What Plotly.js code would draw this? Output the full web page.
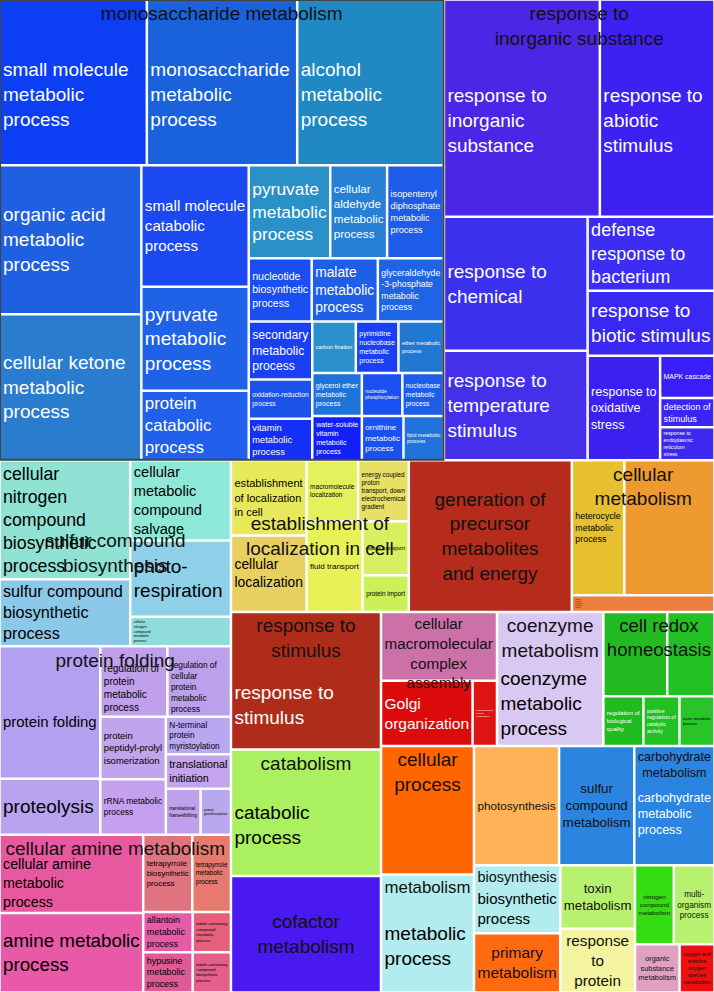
<!DOCTYPE html>
<html>
<head>
<meta charset="utf-8">
<script src="https://cdn.plot.ly/plotly-3.0.1.min.js"></script>
<style>
  html, body { margin: 0; padding: 0; background: #fff; }
  #chart { width: 714px; height: 992px; }
</style>
</head>
<body>
<div id="chart"></div>
<script>
// group (cluster) names, in layout order
var groupNames = [
  'monosaccharide metabolism', 'response to inorganic substance', 'sulfur compound biosynthesis',
  'protein folding', 'cellular amine metabolism', 'establishment of localization in cell',
  'generation of precursor metabolites and energy', 'cellular metabolism', 'response to stimulus',
  'catabolism', 'cofactor metabolism', 'cellular macromolecular complex assembly',
  'coenzyme metabolism', 'cell redox homeostasis', 'cellular process', 'metabolism',
  'photosynthesis', 'sulfur compound metabolism', 'carbohydrate metabolism', 'biosynthesis',
  'primary metabolism', 'toxin metabolism', 'response to protein', 'nitrogen compound metabolism',
  'multi-organism process', 'organic substance metabolism', 'oxygen and reactive oxygen species metabolism'
];
var groupLabels = [
  'monosaccharide metabolism', 'response to<br>inorganic substance', 'sulfur compound<br>biosynthesis',
  'protein folding', 'cellular amine metabolism', 'establishment of<br>localization in cell',
  'generation of<br>precursor<br>metabolites<br>and energy', 'cellular<br>metabolism', 'response to<br>stimulus',
  'catabolism', 'cofactor<br>metabolism', 'cellular<br>macromolecular<br>complex<br>assembly',
  'coenzyme<br>metabolism', 'cell redox<br>homeostasis', 'cellular<br>process', 'metabolism',
  'photosynthesis', 'sulfur<br>compound<br>metabolism', 'carbohydrate<br>metabolism', 'biosynthesis',
  'primary<br>metabolism', 'toxin<br>metabolism', 'response<br>to<br>protein', 'nitrogen<br>compound<br>metabolism',
  'multi-<br>organism<br>process', 'organic<br>substance<br>metabolism', 'oxygen and<br>reactive<br>oxygen<br>species<br>metabolism'
];
var groupLabelPos = [
  'top', 'top', 'mid', 'top', 'top', 'mid', 'mid', 'top', 'top', 'top', 'mid', 'top', 'top', 'top',
  'top', 'top', 'mid', 'mid', 'top', 'top', 'mid', 'mid', 'mid', 'mid', 'mid', 'mid', 'mid'
];

// GO terms (leaves)
var leafNames = [
  'small molecule metabolic process', 'monosaccharide metabolic process', 'alcohol metabolic process',
  'organic acid metabolic process', 'cellular ketone metabolic process', 'small molecule catabolic process',
  'pyruvate metabolic process', 'protein catabolic process', 'pyruvate metabolic process',
  'cellular aldehyde metabolic process', 'isopentenyl diphosphate metabolic process',
  'nucleotide biosynthetic process', 'malate metabolic process', 'glyceraldehyde -3-phosphate metabolic process',
  'secondary metabolic process', 'oxidation-reduction process', 'vitamin metabolic process',
  'carbon fixation', 'pyrimidine nucleobase metabolic process', 'ether metabolic process',
  'glycerol ether metabolic process', 'water-soluble vitamin metabolic process', 'nucleotide phosphorylation',
  'nucleobase metabolic process', 'ornithine metabolic process', 'lipid metabolic process',

  'response to inorganic substance', 'response to abiotic stimulus', 'response to chemical',
  'response to temperature stimulus', 'defense response to bacterium', 'response to biotic stimulus',
  'response to oxidative stress', 'MAPK cascade', 'detection of stimulus', 'response to endoplasmic reticulum stress',

  'cellular nitrogen compound biosynthetic process', 'sulfur compound biosynthetic process',
  'cellular metabolic compound salvage', 'photo- respiration', 'cellular nitrogen compound metabolic process',

  'protein folding', 'proteolysis', 'regulation of protein metabolic process',
  'regulation of cellular protein metabolic process', 'protein peptidyl-prolyl isomerization',
  'rRNA metabolic process', 'N-terminal protein myristoylation', 'translational initiation',
  'translational frameshifting', 'protein glutathionylation',

  'cellular amine metabolic process', 'amine metabolic process', 'tetrapyrrole biosynthetic process',
  'tetrapyrrole metabolic process', 'allantoin metabolic process', 'hypusine metabolic process',
  'indole-containing compound metabolic process', 'indole-containing compound biosynthetic process',

  'establishment of localization in cell', 'cellular localization', 'macromolecule localization',
  'energy coupled proton transport, down electrochemical gradient', 'fluid transport', 'water transport', 'protein import',

  'generation of precursor metabolites and energy',
  'heterocycle metabolic process', 'cellular metabolic process', 'cellular aromatic compound metabolic process',
  'response to stimulus',
  'catabolic process',
  'cofactor metabolic process',
  'cellular macromolecular complex assembly', 'Golgi organization', 'endomembrane system organization',
  'coenzyme metabolic process',
  'cell redox homeostasis', 'cellular homeostasis', 'regulation of biological quality',
  'positive regulation of catalytic activity', 'auxin metabolic process',
  'cellular process',
  'metabolic process',
  'photosynthesis',
  'sulfur compound metabolic process',
  'carbohydrate metabolic process',
  'biosynthetic process',
  'primary metabolic process',
  'toxin metabolic process',
  'response to protein',
  'nitrogen compound metabolic process',
  'multi-organism process',
  'organic substance metabolic process',
  'oxygen and reactive oxygen species metabolic process'
];
var leafGroup = [
  0,0,0,0,0,0,0,0,0,0,0,0,0,0,0,0,0,0,0,0,0,0,0,0,0,0,
  1,1,1,1,1,1,1,1,1,1,
  2,2,2,2,2,
  3,3,3,3,3,3,3,3,3,3,
  4,4,4,4,4,4,4,4,
  5,5,5,5,5,5,5,
  6,
  7,7,7,
  8,
  9,
  10,
  11,11,11,
  12,
  13,13,13,13,13,
  14, 15, 16, 17, 18, 19, 20, 21, 22, 23, 24, 25, 26
];
var leafValues = [
  24500, 25000, 24400, 21200, 20800, 13100, 11200, 7500, 7600, 5300, 5300,
  4000, 4200, 4200, 3700, 2500, 2650, 2250, 2200, 2350, 2150, 2200, 1750, 1800, 1850, 1800,

  34000, 25000, 19300, 15800, 9400, 8300, 7600, 2300, 1600, 1800,

  15600, 8800, 8100, 7700, 3000,

  13400, 5650, 4750, 4500, 4100, 3650, 2450, 2250, 1600, 1400,

  11300, 11450, 3800, 3000, 2000, 2000, 1550, 1550,

  5700, 5800, 3150, 3100, 5100, 2500, 1700,

  24800,
  7100, 12200, 2400,
  20700,
  19050,
  17550,
  8000, 6000, 1600,
  14300,
  5400, 4000, 2000, 1800, 1750,
  12000, 11000, 10180, 9000, 9600, 5900, 5130, 4770, 4770, 3080, 3230, 2160, 1690
];
var leafColors = [
  '#0c3ef4', '#1a62dc', '#2088c2', '#1f60e0', '#2a7cce', '#1c48f2', '#1f62e8', '#2060ec', '#2a90c8',
  '#2680d4', '#1c5ce8', '#1a4ef0', '#1f5ee6', '#1f64e2', '#1a40f4', '#1a52ea', '#1530f6', '#2a90cc',
  '#1a40f2', '#2078d2', '#1f72d8', '#1020f6', '#1a4ff0', '#1d5ee8', '#1a50f0', '#2072dc',

  '#4a26e6', '#3e20f2', '#3a30ee', '#4430ea', '#3c2cf4', '#3828f2', '#3c20f0', '#3a1ef8', '#3a26f0', '#3c28ee',

  '#8fe2d4', '#8cc8e8', '#8ee8d8', '#8ed0e8', '#90dcdc',

  '#b4a0f0', '#b8a4ee', '#c0a0ea', '#bca0ea', '#c0a4ec', '#c4a0ee', '#b8a8f0', '#c4a4ec', '#c0a0ea', '#b8a8ee',

  '#e8589e', '#e85aa8', '#e0747e', '#e67a6e', '#e85aa8', '#e05a96', '#e6607e', '#e45f8a',

  '#e8e85c', '#e8d060', '#e4f05c', '#e8e064', '#e8f258', '#d8f060', '#ccf05a',

  '#b52c1c',
  '#e6c02e', '#ee9a30', '#ee7e3e',
  '#b02c1a',
  '#aaf060',
  '#4a18f0',
  '#cc70a8', '#dd0c0c', '#dd1414',
  '#d8c8f2',
  '#22bb22', '#22c022', '#1fbb1f', '#22c022', '#28c428',
  '#ff6600', '#b2ecee', '#ffb256', '#2b84e0', '#2b84e0', '#b2ecee', '#ff6a10', '#b8f070',
  '#f4f4a0', '#33dd11', '#b8f070', '#e0a0c0', '#ee1010'
];
// 1 = leaf label drawn, 0 = hidden under the cluster label
var leafShow = [
  1,1,1,1,1,1,1,1,1,1,1,1,1,1,1,1,1,1,1,1,1,1,1,1,1,1,
  1,1,1,1,1,1,1,1,1,1,
  1,1,1,1,1,
  1,1,1,1,1,1,1,1,1,1,
  1,1,1,1,1,1,1,1,
  1,1,1,1,1,1,1,
  0,
  1,0,1,
  1,
  1,
  0,
  0,1,1,
  1,
  0,0,1,1,1,
  0,1,0,0,1,1,0,0,0,0,0,0,0
];
// empty lines put above a term label that sits under its cluster label
var leafDrop = {
  'small molecule metabolic process': 1, 'monosaccharide metabolic process': 1, 'alcohol metabolic process': 1,
  'response to inorganic substance': 1, 'response to abiotic stimulus': 1, 'protein folding': 1,
  'regulation of protein metabolic process': 1, 'regulation of cellular protein metabolic process': 1,
  'cellular amine metabolic process': 1, 'response to stimulus': 2, 'coenzyme metabolic process': 2,
  'catabolic process': 1, 'metabolic process': 1, 'biosynthetic process': 1, 'carbohydrate metabolic process': 1
};

function wrap_label(str, maxLen){
  var words = str.split(' ');
  var lines = [];
  var cur = '';
  for (var i in words){
    var w = words[i];
    if (cur == '') cur = w;
    else if ((cur + ' ' + w).length <= maxLen) cur = cur + ' ' + w;
    else { lines.push(cur); cur = w; }
  }
  if (cur != '') lines.push(cur);
  return lines.join('<br>');
}

function is_dark(hex){
  var r = parseInt(hex.substr(1,2),16), g = parseInt(hex.substr(3,2),16), b = parseInt(hex.substr(5,2),16);
  return (0.299*r + 0.587*g + 0.114*b) < 130;
}

// main treemap: clusters with their terms
var ids = [], labels = [], parents = [], values = [], texts = [], colors = [], tcolors = [];
var groupTotals = groupNames.map(function(){ return 0; });
for (var gi = 0; gi < groupNames.length; gi++){
  ids.push('g' + gi);
  labels.push(groupNames[gi]);
  parents.push('');
  values.push(0);
  texts.push('');
  colors.push(leafColors[leafGroup.indexOf(gi)]);
  tcolors.push('#000');
}
for (var li = 0; li < leafNames.length; li++){
  var g = leafGroup[li];
  var t = '';
  if (leafShow[li]){
    t = wrap_label(leafNames[li], 15);
    for (var k = 0; k < (leafDrop[leafNames[li]] || 0); k++) t = '\u00a0<br>' + t;
  }
  ids.push('g' + g + '-' + li);
  labels.push(leafNames[li]);
  parents.push('g' + g);
  values.push(leafValues[li]);
  texts.push(t);
  colors.push(leafColors[li]);
  tcolors.push(is_dark(leafColors[li]) ? '#ffffff' : '#000000');
  groupTotals[g] += leafValues[li];
}

var tiling = {packing: 'squarify', squarifyratio: 1, pad: 1};
var noPad = {t: 0, l: 0, r: 0, b: 0};
var fontFamily = 'Liberation Sans, Arial, sans-serif';

var mainTrace = {
  type: 'treemap',
  ids: ids,
  labels: labels,
  parents: parents,
  values: values,
  branchvalues: 'remainder',
  sort: false,
  text: texts,
  texttemplate: '%{text}',
  textposition: 'middle left',
  textfont: {family: fontFamily, size: 19, color: tcolors},
  marker: {colors: colors, line: {color: '#ffffff', width: 1.5}, pad: noPad},
  tiling: tiling,
  pathbar: {visible: false},
  hoverinfo: 'label'
};

// cluster labels drawn on top
function label_trace(pos){
  return {
    type: 'treemap',
    ids: groupNames.map(function(_, i){ return 'o' + pos + i; }),
    labels: groupNames,
    parents: groupNames.map(function(){ return ''; }),
    values: groupTotals,
    sort: false,
    text: groupLabels.map(function(t, i){ return groupLabelPos[i] == pos ? t : ''; }),
    texttemplate: '%{text}',
    textposition: pos == 'top' ? 'top center' : 'middle center',
    textfont: {family: fontFamily, size: 19, color: '#111111'},
    marker: {colors: groupNames.map(function(){ return 'rgba(0,0,0,0)'; }),
             line: {color: 'rgba(0,0,0,0)', width: 1.5}, pad: noPad},
    tiling: tiling,
    pathbar: {visible: false},
    hoverinfo: 'skip'
  };
}

var layout = {
  width: 714,
  height: 992,
  margin: {l: 0, r: 0, t: 0, b: 0},
  paper_bgcolor: '#ffffff',
  font: {family: fontFamily}
};

Plotly.newPlot('chart', [mainTrace, label_trace('top'), label_trace('mid')], layout, {displayModeBar: false});
</script>
</body>
</html>
